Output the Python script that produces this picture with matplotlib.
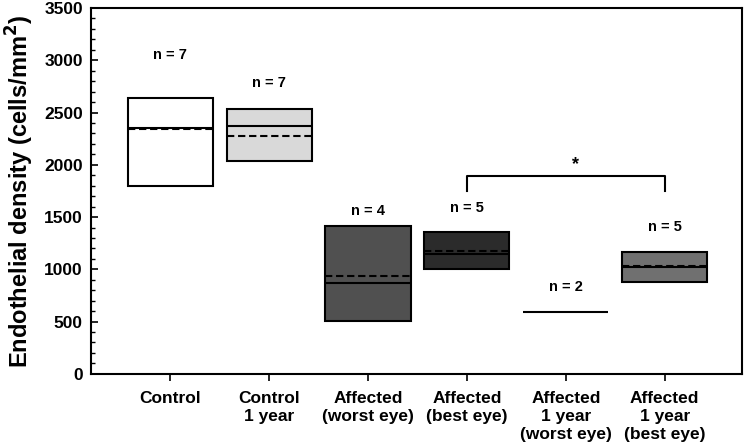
import numpy as np
import matplotlib.pyplot as plt

plt.rcParams['font.family'] = ['Liberation Sans', 'DejaVu Sans']
plt.rcParams['font.weight'] = 'bold'

# data
groups = ['Control', 'Control\n1 year', 'Affected\n(worst eye)', 'Affected\n(best eye)',
          'Affected\n1 year\n(worst eye)', 'Affected\n1 year\n(best eye)']
q1 = [1793, 2033, 510, 1004, 596, 883]
q3 = [2640, 2534, 1418, 1361, 596, 1170]
median = [2355, 2368, 870, 1148, 596, 1023]
mean = [2340, 2279, 934, 1179, np.nan, 1033]
colors = ['white', '#d9d9d9', '#505050', '#2b2b2b', 'white', '#707070']
n_text = ['n = 7', 'n = 7', 'n = 4', 'n = 5', 'n = 2', 'n = 5']
n_y = [3049, 2780, 1562, 1587, 835, 1403]

x = np.arange(1, len(groups) + 1)
w = 0.86

fig = plt.figure(figsize=(7.47, 4.44), dpi=100)
ax = fig.add_axes([0.122, 0.158, 0.871, 0.824])

for i in range(len(groups)):
    if q3[i] > q1[i]:
        ax.bar(x[i], q3[i] - q1[i], bottom=q1[i], width=w, color=colors[i],
               edgecolor='black', linewidth=1.5, zorder=2)
    ax.hlines(median[i], x[i] - w / 2, x[i] + w / 2, color='black', linewidth=1.5, zorder=3)
    if not np.isnan(mean[i]):
        ax.hlines(mean[i], x[i] - w / 2, x[i] + w / 2, color='black', linewidth=1.5,
                  linestyle=(0, (3.5, 1.8)), zorder=3)
    ax.text(x[i], n_y[i], n_text[i], ha='center', va='center', fontsize=10.5, fontweight='bold')

# significance bracket between best eye groups
ax.plot([4, 4, 6, 6], [1750, 1896, 1896, 1750], color='black', linewidth=1.5)
ax.text(5.1, 1999, '*', ha='center', va='center', fontsize=13, fontweight='bold')

ax.set_xlim(0.2, 6.78)
ax.set_ylim(0, 3500)
ax.set_xticks(x)
ax.set_xticklabels(groups, fontsize=12.5, fontweight='bold', va='top', linespacing=1.25)
ax.set_yticks(np.arange(0, 3501, 500))
ax.set_yticks(np.arange(0, 3501, 100), minor=True)
ax.tick_params(axis='y', direction='in', which='major', length=5, width=1.2, labelsize=12.5, pad=6)
ax.tick_params(axis='y', direction='in', which='minor', length=3, width=1)
ax.tick_params(axis='x', direction='out', length=5, width=1.2, pad=7)
for lab in ax.get_yticklabels():
    lab.set_fontweight('bold')
for s in ax.spines.values():
    s.set_linewidth(1.5)
ax.set_ylabel('Endothelial density (cells/mm$^\\mathbf{2}$)', fontsize=17, fontweight='bold',
              labelpad=6)

fig.savefig('out.png', dpi=100)
